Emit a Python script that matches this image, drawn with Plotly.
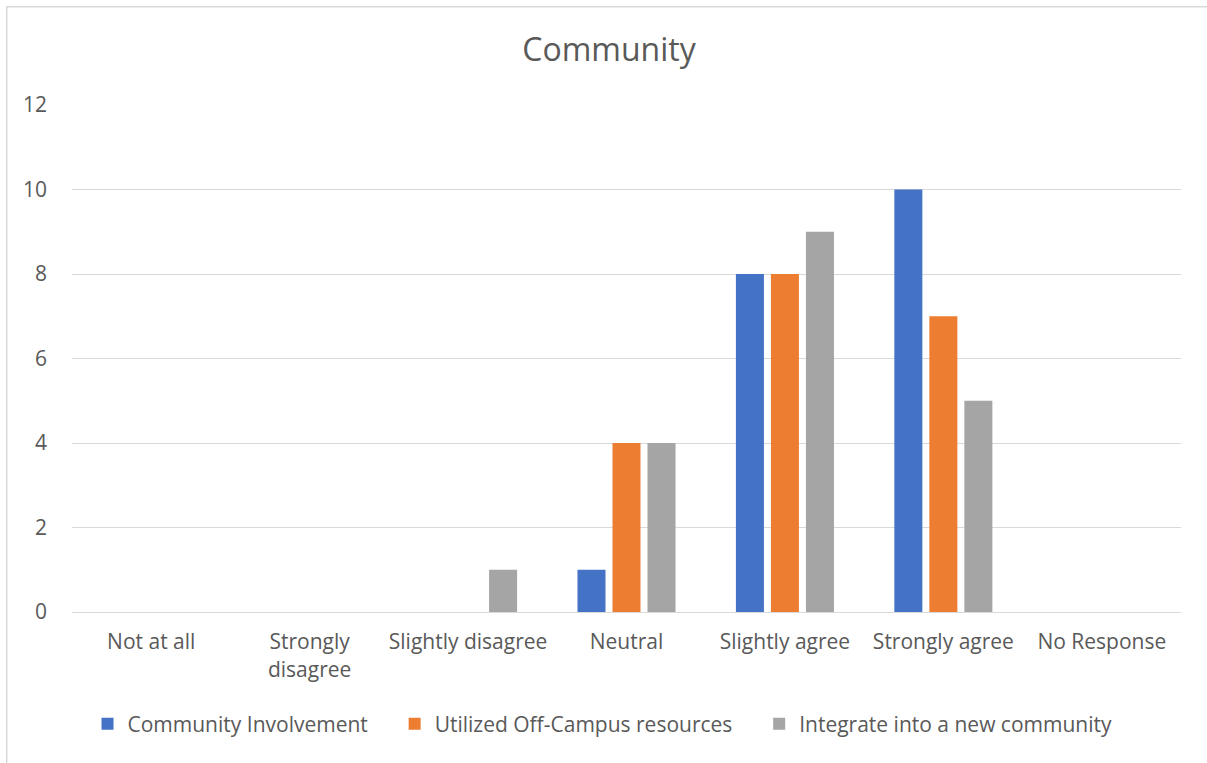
import plotly.graph_objects as go

categories = ["Not at all", "Strongly<br>disagree", "Slightly disagree", "Neutral",
              "Slightly agree", "Strongly agree", "No Response"]
community_involvement = [0, 0, 0, 1, 8, 10, 0]
off_campus_resources = [0, 0, 0, 4, 8, 7, 0]
new_community = [0, 0, 1, 4, 9, 5, 0]
y_ticks = [0, 2, 4, 6, 8, 10, 12]

series = [
    ("Community Involvement", community_involvement, "#4472C4"),
    ("Utilized Off-Campus resources", off_campus_resources, "#ED7D31"),
    ("Integrate into a new community", new_community, "#A5A5A5"),
]

FONT = "Open Sans, Liberation Sans, sans-serif"
TEXT = "#595959"
FS = 21

fig = go.Figure()
for name, vals, color in series:
    fig.add_trace(go.Bar(x=categories, y=vals, name=name + "    ", marker_color=color,
                         marker_line_width=0))

W, H = 1207, 763
L, R, T, B = 72, 26, 105, 151
pw, ph = W - L - R, H - T - B

fig.update_layout(
    width=W, height=H,
    margin=dict(l=L, r=R, t=T, b=B, pad=0),
    paper_bgcolor="white", plot_bgcolor="white",
    barmode="group", bargap=0.337, bargroupgap=0.2,
    font=dict(family=FONT, color=TEXT, size=FS),
    title=dict(text="Community", xref="container", x=609 / W, xanchor="center",
               yref="container", y=1 - 50 / H, yanchor="middle",
               font=dict(size=32, color=TEXT, family=FONT)),
    showlegend=True,
    legend=dict(orientation="h", x=(613 - L) / pw, xanchor="center", y=-(724 - 612) / ph,
                yanchor="middle", font=dict(size=FS, color=TEXT), itemwidth=30,
                traceorder="normal"),
    xaxis=dict(showgrid=False, showline=True, linecolor="#D9D9D9", linewidth=1,
               ticks="", tickfont=dict(size=FS, color=TEXT), ticklabelstandoff=11),
    yaxis=dict(range=[0, 12], tickvals=y_ticks, showgrid=True, gridcolor="#D9D9D9",
               gridwidth=1, zeroline=False, showline=False, ticks="",
               tickfont=dict(size=FS, color=TEXT), ticklabelstandoff=24),
)

# thin chart frame along the top and left edges, drawn as filled strips
fy = (H - B - 6) / ph
fig.add_shape(type="rect", xref="paper", yref="paper",
              x0=(6 - L) / pw, x1=(W - L) / pw, y0=fy - 1.5 / ph, y1=fy,
              line_width=0, fillcolor="#D9D9D9", layer="below")
fig.add_shape(type="rect", xref="paper", yref="paper",
              x0=(6 - L) / pw, x1=(7.5 - L) / pw, y0=-B / ph, y1=fy,
              line_width=0, fillcolor="#D9D9D9", layer="below")

fig.write_html("out.html", config={"displayModeBar": False})
